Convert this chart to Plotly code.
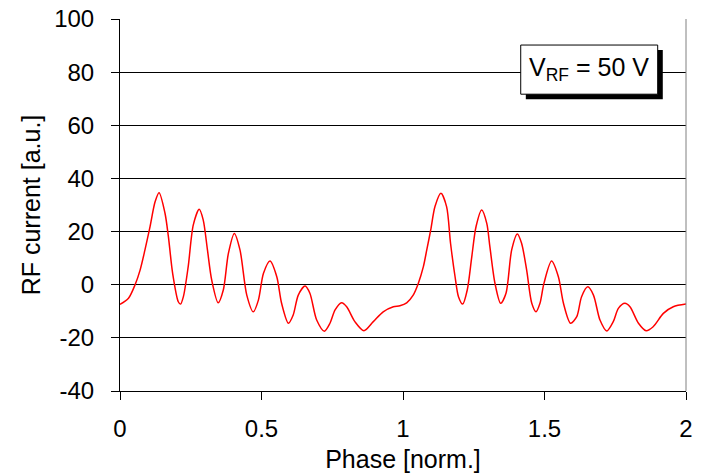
import plotly.graph_objects as go

phase = [0.000, 0.030, 0.053, 0.071, 0.088, 0.106, 0.124, 0.138, 0.159, 0.171, 0.186, 0.206, 0.214,
         0.224, 0.241, 0.259, 0.280, 0.294, 0.309, 0.324, 0.347, 0.365, 0.383, 0.404, 0.424, 0.448,
         0.471, 0.489, 0.507, 0.530, 0.554, 0.571, 0.595, 0.612, 0.630, 0.654, 0.671, 0.695, 0.722,
         0.742, 0.760, 0.783, 0.801, 0.830, 0.862, 0.895, 0.930, 0.966, 0.989, 1.013, 1.036, 1.054,
         1.072, 1.084, 1.098, 1.113, 1.134, 1.154, 1.168, 1.184, 1.196, 1.211, 1.227, 1.243, 1.258,
         1.278, 1.296, 1.307, 1.325, 1.345, 1.364, 1.384, 1.404, 1.419, 1.437, 1.455, 1.470, 1.484,
         1.498, 1.525, 1.549, 1.567, 1.592, 1.614, 1.631, 1.653, 1.673, 1.696, 1.720, 1.743, 1.761,
         1.784, 1.802, 1.832, 1.859, 1.884, 1.920, 1.955, 2.000]
current = [-7.4, -5.1, -0.1, 5.5, 13.0, 21.8, 31.2, 34.6, 26.9, 18.1, 4.3, -6.4, -7.3,
           -4.5, 6.8, 22.5, 28.4, 24.4, 13.1, 1.8, -6.8, -2.0, 11.8, 19.3, 13.1, -3.9,
           -10.2, -5.8, 4.3, 8.9, 3.0, -7.0, -14.5, -11.4, -3.9, -0.5, -3.2, -13.3, -17.5,
           -14.5, -9.5, -6.8, -8.3, -13.9, -17.3, -13.9, -10.2, -8.3, -7.9, -6.8, -3.9, 0.5,
           6.8, 13.1, 20.6, 29.4, 34.4, 29.4, 15.6, 3.0, -4.5, -7.3, -2.0, 10.5, 21.8,
           28.1, 23.1, 14.3, 0.5, -7.0, -3.2, 13.1, 19.1, 15.6, 5.5, -7.0, -10.2, -7.0,
           0.5, 8.9, 3.0, -7.0, -14.5, -12.0, -4.5, -0.8, -3.9, -13.3, -17.4, -13.9, -8.9,
           -7.0, -8.3, -14.5, -17.3, -15.8, -10.8, -8.3, -7.3]

x_ticks = [0, 0.5, 1, 1.5, 2]
x_ticklabels = ["0", "0.5", "1", "1.5", "2"]
y_ticks = [-40, -20, 0, 20, 40, 60, 80, 100]
y_ticklabels = ["-40", "-20", "0", "20", "40", "60", "80", "100"]
label_text = "V<sub>RF</sub> = 50 V"

FONT = "Liberation Sans, Arial, sans-serif"

fig = go.Figure()
fig.add_trace(go.Scatter(x=phase, y=current, mode="lines",
                         line=dict(color="#ff0000", width=1.5, shape="spline", smoothing=0.8),
                         showlegend=False, hoverinfo="skip"))

# label box with drop shadow
fig.add_shape(type="rect", xref="x", yref="y", x0=1.434, x1=1.918, y0=69.8, y1=88.3,
              fillcolor="black", line=dict(width=0), layer="above")
fig.add_shape(type="rect", xref="x", yref="y", x0=1.416, x1=1.900, y0=71.7, y1=90.2,
              fillcolor="white", line=dict(color="black", width=1), layer="above")
fig.add_annotation(x=1.658, y=81.0, xref="x", yref="y", text=label_text, showarrow=False,
                   font=dict(family=FONT, size=25, color="black"), xanchor="center", yanchor="middle")

fig.update_layout(
    width=702, height=476,
    margin=dict(l=120, r=16, t=19, b=85),
    paper_bgcolor="white", plot_bgcolor="white",
    font=dict(family=FONT, size=24, color="black"),
    xaxis=dict(range=[0, 2], tickvals=x_ticks, ticktext=x_ticklabels, automargin=False,
               showgrid=False, zeroline=False, showline=True, linecolor="black", linewidth=1,
               ticks="outside", ticklen=8, tickcolor="black", tickfont=dict(size=24),
               ticklabelstandoff=8,
               title=dict(text="Phase [norm.]", font=dict(size=25), standoff=9)),
    yaxis=dict(range=[-40, 100], tickvals=y_ticks, ticktext=y_ticklabels, automargin=False,
               showgrid=True, gridcolor="black", gridwidth=1, zeroline=False,
               showline=True, linecolor="black", linewidth=1,
               ticks="outside", ticklen=8, tickcolor="black", tickfont=dict(size=24),
               ticklabelstandoff=12,
               title=dict(text="RF current [a.u.]", font=dict(size=25), standoff=6)),
)
# right border (gray)
fig.add_shape(type="line", xref="paper", yref="paper", x0=1, x1=1, y0=0, y1=1,
              line=dict(color="#808080", width=1))

fig.write_html("out.html", config={"displayModeBar": False, "staticPlot": True},
               post_script="document.body.style.margin='0';")
